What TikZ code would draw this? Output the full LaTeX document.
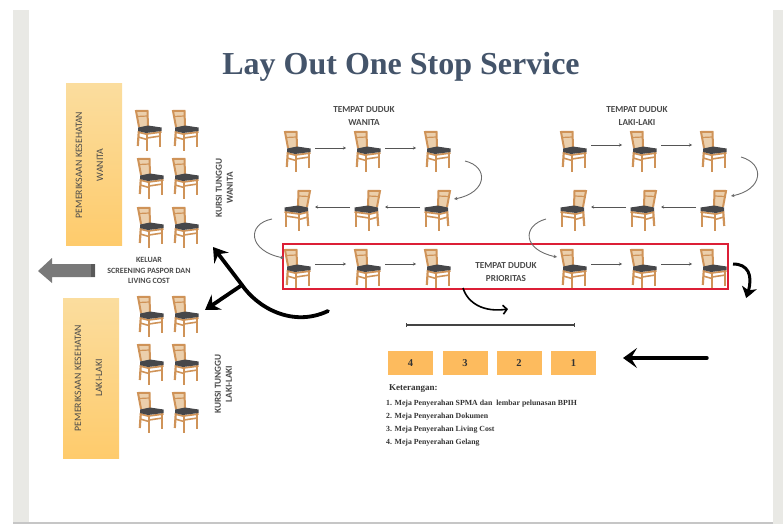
\documentclass[tikz,border=0pt]{standalone}
\usepackage{fontspec}
\setmainfont{Liberation Serif}
\newfontfamily\lblfont{Carlito}
\usetikzlibrary{arrows.meta,bending}
\definecolor{wood}{HTML}{CF9358}
\definecolor{woodlight}{HTML}{EBCFAC}
\definecolor{seat}{HTML}{46474A}
\definecolor{band}{HTML}{E9E9E5}
\definecolor{ylight}{HTML}{FBDD9E}
\definecolor{ydark}{HTML}{FECB6C}
\definecolor{boxc}{HTML}{FDBB5E}
\definecolor{redrect}{HTML}{DC1F36}
\definecolor{titlec}{HTML}{44546A}
\definecolor{lbl}{HTML}{4A4A4A}
\definecolor{flow}{HTML}{555555}
\tikzset{
  x=1pt,y=-1pt,
  chairnode/.style={minimum width=27pt,minimum height=41pt,inner sep=0pt,outer sep=0pt},
  chairshape/.pic={
    \begin{scope}[shift={(-13.5,-20.5)}]
      \fill[woodlight] (1,1) -- (12.5,1) -- (13,17) -- (4,17) -- cycle;
      \draw[wood,line width=2pt] (4,17) -- (1,1) -- (12.5,0.8) -- (13,16);
      \draw[wood,line width=1.2pt] (2,6.5) -- (12.5,6);
      \draw[wood,line width=2.2pt] (3.8,21) -- (2.8,36);
      \draw[wood,line width=2.4pt] (12,22) -- (12,40.5);
      \draw[wood,line width=2.2pt] (25.2,21) -- (25.2,37);
      \draw[wood,line width=1.6pt] (12,28) -- (25.5,26) (3,27) -- (12,29.5);
      \draw[wood,line width=1.8pt] (3,22) -- (11,24) -- (26.5,22);
      \fill[seat] (3,17.5) -- (13,15.5) -- (26.5,17.5) -- (26.5,21) -- (11,23) -- (3,21) -- cycle;
    \end{scope}
  },
  flowarrow/.style={flow,line width=0.9pt,-{Stealth[length=3pt,width=3pt]}},
  curvearrow/.style={gray!85!black,line width=0.9pt,-{Stealth[length=3.5pt,width=3.5pt]}},
  capt/.style={font=\lblfont\bfseries\fontsize{9.2}{10}\selectfont,text=lbl,inner sep=0pt},
  exitcapt/.style={font=\lblfont\bfseries\fontsize{8}{9}\selectfont,text=lbl,inner sep=0pt},
  vcapt/.style={font=\lblfont\fontsize{9.8}{11}\selectfont,text=lbl,inner sep=0pt,rotate=90},
  vbold/.style={capt,rotate=90},
  room/.style={draw=none,top color=ylight,bottom color=ydark,inner sep=0pt,minimum width=56pt,minimum height=161pt},
  desk/.style={fill=boxc,inner sep=0pt,minimum width=45pt,minimum height=24pt,
     font=\bfseries\fontsize{10.5}{11}\selectfont,text=black!80},
  legend/.style={anchor=west,inner sep=0pt,text=black!80,font=\bfseries\fontsize{7.8}{10}\selectfont},
  bold arrow/.style={black,line width=3.8pt,line cap=round,-{Stealth[length=14pt,width=18pt,inset=5pt,bend]}},
}
\newcommand{\chairR}[3]{\node[chairnode] (#1) at (#2,#3) {}; \pic at (#1) {chairshape};}
\newcommand{\chairL}[3]{\node[chairnode] (#1) at (#2,#3) {}; \pic[xscale=-1] at (#1) {chairshape};}
\begin{document}
\begin{tikzpicture}
\useasboundingbox (0,0) rectangle (783,524);
% page
\fill[band] (13,10) rectangle (29,524);
\fill[band] (773,10) rectangle (783,524);
\fill[gray!45] (13,522) rectangle (773,524);
% title
\node[font=\bfseries\fontsize{32}{34}\selectfont,text=titlec,inner sep=0pt] (title) at (401,67) {Lay Out One Stop Service};
% rooms
\node[room] (roomW) at (94,164.5) {};
\node[vcapt] (roomWa) at (79,165) {PEMERIKSAAN KESEHATAN};
\node[vcapt] (roomWb) at (100,165) {WANITA};
\node[room,minimum height=160pt] (roomM) at (91,378) {};
\node[vcapt] (roomMa) at (78,378) {PEMERIKSAAN KESEHATAN};
\node[vcapt] (roomMb) at (99,378) {LAKI-LAKI};
% waiting chairs
\chairR{w11}{148.5}{130.5}\chairR{w12}{185.5}{130.5}
\chairR{w21}{150.5}{178.5}\chairR{w22}{185.5}{178.5}
\chairR{w31}{150.5}{227.5}\chairR{w32}{185.5}{227.5}
\chairR{m11}{150.5}{316.5}\chairR{m12}{185.5}{316.5}
\chairR{m21}{150.5}{364.5}\chairR{m22}{185.5}{364.5}
\chairR{m31}{150.5}{412.5}\chairR{m32}{185.5}{412.5}
\node[vbold] (kw1) at (219,188) {KURSI TUNGGU};
\node[vbold] (kw2) at (230,188) {WANITA};
\node[vbold] (km1) at (218,384) {KURSI TUNGGU};
\node[vbold] (km2) at (229,384) {LAKI-LAKI};
% seat groups
\chairR{a11}{297.5}{151.5}\chairR{a12}{367.5}{151.5}\chairR{a13}{437.5}{151.5}
\chairL{a21}{297.5}{210.5}\chairL{a22}{367.5}{210.5}\chairL{a23}{437.5}{210.5}
\chairR{a31}{297.5}{269.5}\chairR{a32}{367.5}{269.5}\chairR{a33}{437.5}{269.5}
\chairR{b11}{573.5}{151.5}\chairR{b12}{643.5}{151.5}\chairR{b13}{713.5}{151.5}
\chairL{b21}{573.5}{210.5}\chairL{b22}{643.5}{210.5}\chairL{b23}{713.5}{210.5}
\chairR{b31}{573.5}{269.5}\chairR{b32}{643.5}{269.5}\chairR{b33}{713.5}{269.5}
\node[capt,align=center] (tw) at (364,116) {TEMPAT DUDUK\\[2.4pt]WANITA};
\node[capt,align=center] (tm) at (637,116) {TEMPAT DUDUK\\[2.4pt]LAKI-LAKI};
\node[capt,align=center] (tp) at (506,272) {TEMPAT DUDUK\\[2.4pt]PRIORITAS};
% red rectangle
\node[draw=redrect,line width=2.4pt,minimum width=445pt,minimum height=45pt,inner sep=0pt] (prio) at (505.5,266.5) {};
% straight flow arrows
\foreach \p/\q/\s in {a11/a12/3.5,a12/a13/3.5,a31/a32/5.5,a32/a33/5.5,b11/b12/6.5,b12/b13/6.5,b31/b32/5.5,b32/b33/5.5}
  \draw[flowarrow,shorten <=4pt,shorten >=8pt] ([yshift=\s pt]\p.east) -- ([yshift=\s pt]\q.west);
\foreach \p/\q/\s in {a23/a22/3.5,a22/a21/3.5,b23/b22/3.5,b22/b21/3.5}
  \draw[flowarrow,shorten <=4pt,shorten >=4pt] ([yshift=\s pt]\p.west) -- ([yshift=\s pt]\q.east);
% curved arrows
\coordinate (c1s) at (465,161); \coordinate (c1e) at (454,199);
\draw[curvearrow] (c1s) .. controls (490,167) and (487,194) .. (c1e);
\coordinate (c2s) at (272,219); \coordinate (c2e) at (284,258);
\draw[curvearrow] (c2s) .. controls (246,224) and (248,252) .. (c2e);
\coordinate (c3s) at (741,157); \coordinate (c3e) at (731,196);
\draw[curvearrow] (c3s) .. controls (766,164) and (763,191) .. (c3e);
\coordinate (c4s) at (546,219); \coordinate (c4e) at (557,257);
\draw[curvearrow] (c4s) .. controls (521,226) and (523,251) .. (c4e);
% black arrows
\coordinate (k1s) at (733,264); \coordinate (k1e) at (746,298);
\draw[black,line width=3pt,-{Stealth[length=11pt,width=15pt,inset=3pt,bend]}] (k1s) .. controls (750,264) and (754,278) .. (k1e);
\coordinate (k2s) at (463,288); \coordinate (k2e) at (508,309);
\draw[black,line width=1.6pt,-{Straight Barb[length=4pt,width=9pt,bend]}] (k2s) .. controls (468,304) and (485,313) .. (k2e);
\coordinate (k3s) at (328,311); \coordinate (k3e) at (213,247); \coordinate (k3b) at (242,285); \coordinate (k3t) at (205,310);
\draw[bold arrow] (k3s) .. controls (292,328) and (257,307) .. (k3b) -- (k3e);
\draw[bold arrow] (k3b) -- (k3t);
% grey exit arrow
\fill[gray!95!black] (38,271) -- (52,258) -- (52,264) -- (95,264) -- (95,277) -- (52,277) -- (52,283) -- cycle;
\fill[gray!70!black] (91,264) rectangle (95,277);
\node[exitcapt,align=center] (exit) at (149,270.5) {KELUAR\\[1.6pt]SCREENING PASPOR DAN\\[1.6pt]LIVING COST};
% scale line
\coordinate (ls) at (406,325); \coordinate (le) at (575,325);
\draw[flow!80!black,line width=1.2pt,{Bar[width=4pt]}-{Bar[width=4pt]}] (ls) -- (le);
% desks
\node[desk] (d4) at (410.5,363) {4};
\node[desk] (d3) at (465,363) {3};
\node[desk] (d2) at (519,363) {2};
\node[desk] (d1) at (573.5,363) {1};
% entry arrow
\coordinate (k4s) at (707,358); \coordinate (k4e) at (623,358);
\draw[black,line width=3.4pt,line cap=round,-{Stealth[length=14pt,width=20pt,inset=6pt]}] (k4s) -- (k4e);
% legend
\node[legend,font=\bfseries\fontsize{9}{10}\selectfont] (kt) at (389,389) {Keterangan:};
\node[legend] (l1) at (386,404) {1. Meja Penyerahan SPMA dan\ \ lembar pelunasan BPIH};
\node[legend] (l2) at (386,417) {2. Meja Penyerahan Dokumen};
\node[legend] (l3) at (386,430) {3. Meja Penyerahan Living Cost};
\node[legend] (l4) at (386,443) {4. Meja Penyerahan Gelang};
\end{tikzpicture}
\end{document}
